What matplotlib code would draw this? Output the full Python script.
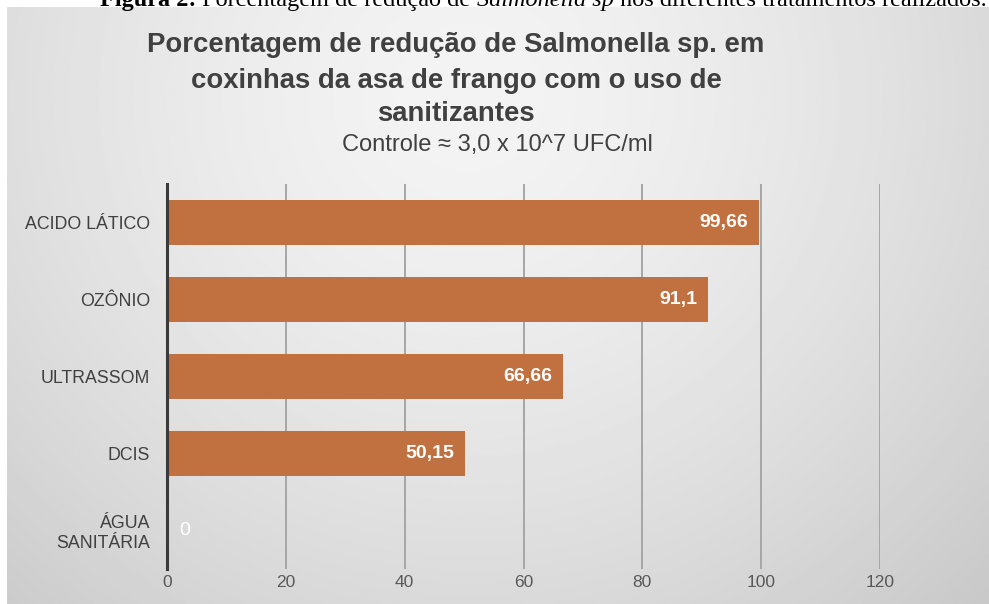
import numpy as np
import matplotlib
matplotlib.use("Agg")
import matplotlib.pyplot as plt

# dados do gráfico
categorias = ["ACIDO LÁTICO", "OZÔNIO", "ULTRASSOM", "DCIS", "ÁGUA\nSANITÁRIA"]
reducao = [99.66, 91.1, 66.66, 50.15, 0]
rotulos = ["99,66", "91,1", "66,66", "50,15", "0"]
ticks_x = [0, 20, 40, 60, 80, 100, 120]

cor_barra = "#c0713f"
cor_texto = "#404040"

plt.rcParams["font.family"] = ["Liberation Sans", "DejaVu Sans"]

W, H = 989, 604
fig = plt.figure(figsize=(W / 100, H / 100), dpi=100)
fig.patch.set_facecolor("white")

# fundo com degradê radial
bg = fig.add_axes([7 / W, 0, 1 - 7 / W, (H - 7) / H], zorder=-2)
yy, xx = np.mgrid[0:1:300j, 0:1:500j]
r = np.sqrt(((xx - 0.47) / 0.75) ** 2 + ((yy - 0.15) / 1.2) ** 2)
g = np.clip(0.955 - 0.17 * r ** 1.5, 0.74, 0.96)
bg.imshow(g, cmap="gray", vmin=0, vmax=1, aspect="auto", extent=[0, 1, 0, 1],
          origin="upper", interpolation="bilinear")
bg.set_axis_off()

# legenda da figura, em pedaços com estilos diferentes na mesma linha de base
serif = ["Liberation Serif", "DejaVu Serif"]
partes = [("Figura 2:", "normal", "bold"),
          (" Porcentagem de redução de ", "normal", "normal"),
          ("Salmonella sp", "italic", "normal"),
          (" nos diferentes tratamentos realizados.", "normal", "normal")]
renderer = fig.canvas.get_renderer()
x_px = 100
for txt, estilo, peso in partes:
    t = fig.text(x_px / W, 1 - 6 / H, txt, fontsize=17.5, family=serif,
                 style=estilo, fontweight=peso, va="baseline", ha="left",
                 color="black", zorder=10)
    x_px += t.get_window_extent(renderer).width

# títulos
for texto, ypx in [("Porcentagem de redução de Salmonella sp. em", 45),
                   ("coxinhas da asa de frango com o uso de", 81),
                   ("sanitizantes", 114)]:
    fig.text(456 / W, 1 - ypx / H, texto, ha="center", va="center",
             fontsize=19.8, fontweight="bold", color=cor_texto)
fig.text(497 / W, 1 - 145 / H, "Controle ≈ 3,0 x 10^7 UFC/ml",
         ha="center", va="center", fontsize=17, color=cor_texto)

# área do gráfico
ax = fig.add_axes([167 / W, 1 - 569 / H, (880 - 167) / W, (569 - 184) / H])
ax.patch.set_alpha(0)
y = np.arange(len(categorias))
ax.barh(y, reducao, height=0.58, color=cor_barra, zorder=3)
ax.set_ylim(len(categorias) - 0.5, -0.5)
ax.set_xlim(0, 120)

ax.set_xticks(ticks_x)
ax.set_xticklabels([str(v) for v in ticks_x], fontsize=12.5, color="#595959")
ax.set_yticks(y)
ax.set_yticklabels(categorias, fontsize=12.8, color=cor_texto)
ax.tick_params(axis="x", length=0, pad=4)
ax.tick_params(axis="y", length=0, pad=12)
ax.grid(axis="x", color="#a6a6a6", linewidth=1.4, zorder=1)

for s in ["top", "right", "bottom"]:
    ax.spines[s].set_visible(False)
ax.spines["left"].set_color("#3a3a3a")
ax.spines["left"].set_linewidth(2.2)
ax.spines["left"].set_zorder(4)

for yi, v, lab in zip(y, reducao, rotulos):
    if v > 0:
        ax.annotate(lab, xy=(v, yi), xytext=(-8, 0), textcoords="offset points",
                    ha="right", va="center", fontsize=14, fontweight="bold",
                    color="white", zorder=5)
    else:
        ax.annotate(lab, xy=(v, yi), xytext=(9, 0), textcoords="offset points",
                    ha="left", va="center", fontsize=14, color="white", zorder=5)

fig.savefig("out.png", dpi=100)
